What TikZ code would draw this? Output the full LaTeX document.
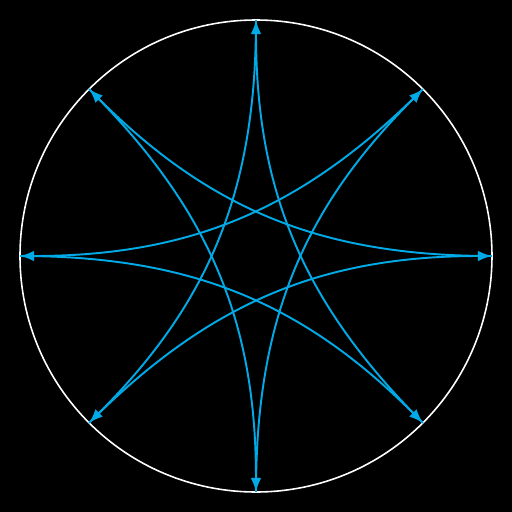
\documentclass[tikz,border=0pt]{standalone}
\usetikzlibrary{arrows.meta}
\definecolor{starblue}{RGB}{0,170,230}
\begin{document}
\begin{tikzpicture}[x=0.02cm,y=0.02cm,
  rim/.style={draw=white,line width=0.9pt},
  starline/.style={draw=starblue,line width=1.1pt,-{Latex[length=8pt,width=6pt]}}]
\fill[black] (-256,-256) rectangle (256,256);
\useasboundingbox (-256,-256) rectangle (256,256);
\node[circle,minimum size=472*0.02cm,inner sep=0pt,rim] (c) at (0,0) {};
\foreach \i in {0,...,7} {
  \coordinate (p\i) at ({45*\i}:236);
}
\foreach \i in {0,...,7} {
  \pgfmathtruncatemacro{\j}{mod(\i+3,8)}
  \pgfmathsetmacro{\a}{45*\i+180}
  \pgfmathsetmacro{\b}{45*\j+180}
  \draw[starline] (p\i) to[out=\a,in=\b] (p\j);
}
\end{tikzpicture}
\end{document}
